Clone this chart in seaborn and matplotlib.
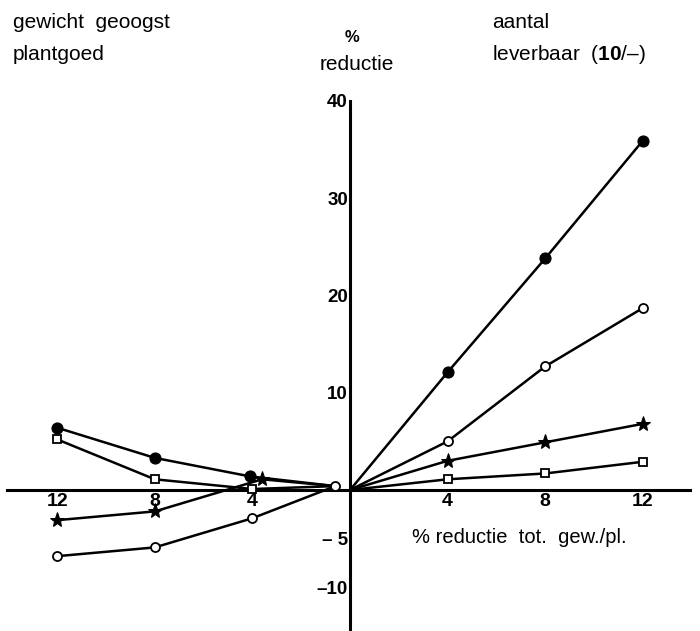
import numpy as np
import pandas as pd
import seaborn as sns
import matplotlib
matplotlib.use("Agg")
import matplotlib.pyplot as plt

sns.set_theme(style="white")
plt.rcParams['font.family'] = ['Liberation Sans', 'DejaVu Sans']
plt.rcParams['mathtext.fontset'] = 'custom'
plt.rcParams['mathtext.rm'] = 'Liberation Sans'
plt.rcParams['mathtext.bf'] = 'Liberation Sans:bold'

# ---- data: left half (gewicht geoogst plantgoed), x = % reductie (plotted to the left)
left_filled_x = [12, 8, 4.1, 0.6]
left_filled_y = [6.4, 3.3, 1.4, 0.4]
left_open_x = [12, 8, 4, 0.6]
left_open_y = [-6.8, -5.9, -2.9, 0.4]
left_star_x = [12, 8, 3.6, 0.6]
left_star_y = [-3.1, -2.2, 1.1, 0.4]
left_square_x = [12, 8, 4, 0.6]
left_square_y = [5.2, 1.1, 0.1, 0.4]

# ---- data: right half (aantal leverbaar)
right_x = [0, 4, 8, 12]
right_filled_y = [0, 12.1, 23.8, 35.9]
right_open_y = [0, 5.0, 12.7, 18.7]
right_star_y = [0, 3.0, 4.9, 6.8]
right_square_y = [0, 1.1, 1.7, 2.9]

x_ticks = [-12, -8, -4, 4, 8, 12]
x_ticklabels = ['12', '8', '4', '4', '8', '12']
y_ticks = [40, 30, 20, 10, -5, -10]
y_ticklabels = ['40', '30', '20', '10', '– 5', '–10']

W, H = 700, 631
fig = plt.figure(figsize=(7, 6.31), dpi=100)
ax = fig.add_axes([0, 0, 1, 1])
ax.set_facecolor('white')

styles = {
    'filled': dict(marker='o', markersize=8, markerfacecolor='black', markeredgecolor='black'),
    'open': dict(marker='o', markersize=6.5, markerfacecolor='white', markeredgecolor='black', markeredgewidth=1.3),
    'star': dict(marker='*', markersize=11, markerfacecolor='black', markeredgecolor='black'),
    'square': dict(marker='s', markersize=6, markerfacecolor='white', markeredgecolor='black', markeredgewidth=1.3),
}

left_series = {
    'filled': (left_filled_x, left_filled_y),
    'open': (left_open_x, left_open_y),
    'star': (left_star_x, left_star_y),
    'square': (left_square_x, left_square_y),
}
right_series = {
    'filled': right_filled_y,
    'open': right_open_y,
    'star': right_star_y,
    'square': right_square_y,
}

for name, (xs, ys) in left_series.items():
    xv = [-v for v in xs]
    mk = [0, 1, 2, 3] if name == 'open' else [0, 1, 2]
    sns.lineplot(x=xv, y=ys, ax=ax, color='black', linewidth=1.8, sort=False,
                 estimator=None, markevery=mk, zorder=3 if name != 'open' else 4,
                 **styles[name])

for name, ys in right_series.items():
    sns.lineplot(x=right_x, y=ys, ax=ax, color='black', linewidth=1.8, sort=False,
                 estimator=None, markevery=[1, 2, 3], zorder=3, **styles[name])

# scales: pixel mapping
ax.set_xlim(-350 / 24.4, 350 / 24.4)
ax.set_ylim(-141 / 9.73, 490 / 9.73)

for s in ['top', 'right']:
    ax.spines[s].set_visible(False)
ax.spines['left'].set_position(('data', 0))
ax.spines['bottom'].set_position(('data', 0))
ax.spines['left'].set_bounds(-14.5, 40)
ax.spines['bottom'].set_bounds(-14.06, 13.93)
for s in ['left', 'bottom']:
    ax.spines[s].set_linewidth(2.2)
    ax.spines[s].set_color('black')
    ax.spines[s].set_zorder(2)

ax.set_xticks(x_ticks)
ax.set_xticklabels(x_ticklabels, fontweight='bold', fontsize=14)
ax.set_yticks(y_ticks)
ax.set_yticklabels(y_ticklabels, fontweight='bold', fontsize=13.5)
ax.tick_params(axis='x', direction='in', length=7, width=2, pad=2, colors='black')
ax.tick_params(axis='y', direction='in', length=7, width=2, pad=1.5, colors='black')
ax.grid(False)

def ftext(x, y, s, **kw):
    fig.text(x / W, 1 - y / H, s, va='baseline', color='black', **kw)

ftext(13, 28, 'gewicht  geoogst', fontsize=15)
ftext(13, 60, 'plantgoed', fontsize=15)
ftext(352, 42, '%', fontsize=12, fontweight='bold', ha='center')
ftext(357, 70, 'reductie', fontsize=15, ha='center')
ftext(492, 28, 'aantal', fontsize=15)
ftext(492, 60, r'leverbaar  ($\mathbf{10}$/–)', fontsize=15)
ftext(412, 543, '% reductie  tot.  gew./pl.', fontsize=14.5)

fig.savefig('out.png', dpi=100, facecolor='white')
